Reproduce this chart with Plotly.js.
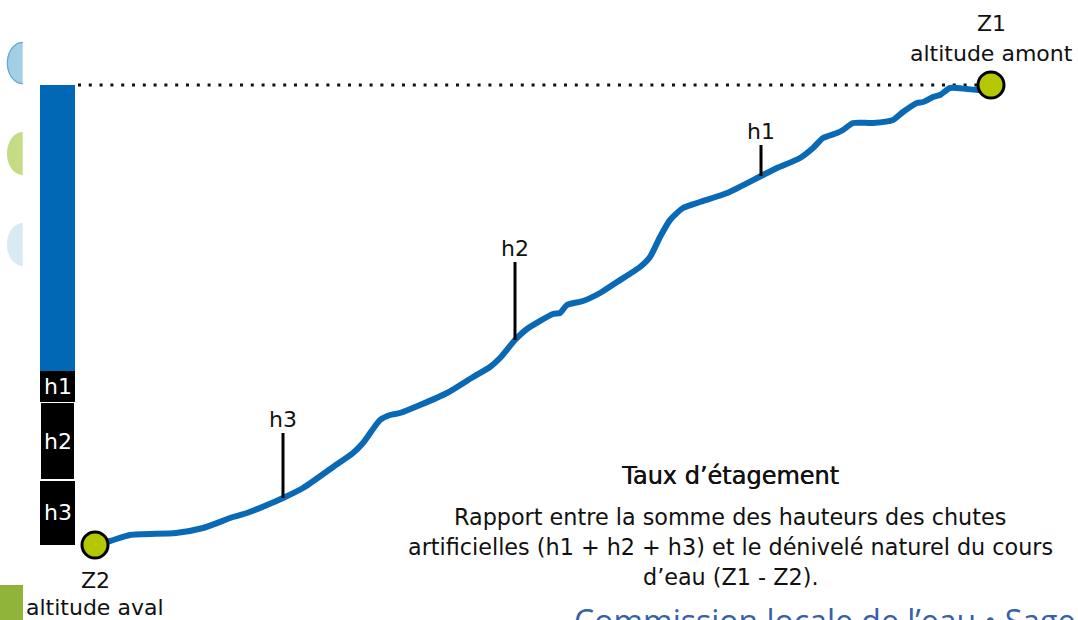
<!DOCTYPE html>
<html>
<head>
<meta charset="utf-8">
<script src="https://cdn.plot.ly/plotly-3.0.1.min.js"></script>
<style>
  html, body { margin: 0; padding: 0; background: #ffffff; }
  #chart { width: 1078px; height: 620px; }
</style>
</head>
<body>
<div id="chart"></div>
<script>
// River longitudinal profile: distance (horizontal) and altitude (vertical), diagram units
const distance = [95, 110, 130, 176, 203, 233, 247, 267, 283, 303, 333, 353, 363, 380, 390, 400, 420, 447, 473, 490, 500, 515, 527, 553, 560, 567, 583, 600, 617, 640, 650, 660, 670, 683, 700, 727, 761, 777, 800, 813, 823, 837, 843, 853, 873, 893, 903, 917, 923, 933, 940, 950, 967, 980, 991];
const altitude = [75, 79, 85, 87, 92, 103, 107, 115, 122, 132, 153, 167, 177, 200, 205, 207, 215, 227, 243, 253, 262, 280, 291, 306, 307, 315, 319, 327, 338, 353, 363, 383, 400, 412, 418, 427, 444, 452, 462, 472, 482, 487, 490, 497, 497, 500, 508, 517, 518, 523, 525, 532, 531, 530, 535];

// End points
const pointNames = ['Z2', 'Z1'];
const pointLabels = ['altitude aval', 'altitude amont'];
const pointX = [95, 991];
const pointAlt = [75, 535];   // Z2 (aval), Z1 (amont)

// Artificial drops (chutes)
const chuteNames = ['h1', 'h2', 'h3'];
const chuteX = [761, 515, 283];
const chuteH = [31, 78, 65];

// Text block
const blockTitle = 'Taux d’étagement';
const blockLines = [
  'Rapport entre la somme des hauteurs des chutes',
  'artificielles (h1 + h2 + h3) et le dénivelé naturel du cours',
  'd’eau (Z1 - Z2).'
];
const footerText = 'Commission locale de l’eau • Sage';

// ---------- derived ----------
const Z2 = pointAlt[0], Z1 = pointAlt[1];
const riverAt = x => altitude[distance.indexOf(x)];
const FONT = 'DejaVu Sans, Liberation Sans, Arial, sans-serif';

const BLUE = '#0a69b4';
const traces = [];

// Stacked bar: h3, h2, h1 then the natural remainder up to Z1
const segNames = ['h3', 'h2', 'h1', ''];
const segVals = [chuteH[2], chuteH[1], chuteH[0]];
segVals.push(Z1 - Z2 - segVals.reduce((a, b) => a + b, 0));
const segBase = [];
let acc = Z2;
segVals.forEach(v => { segBase.push(acc); acc += v; });
traces.push({
  type: 'bar',
  x: [57.5, 57.5, 57.5, 57.5],
  base: segBase,
  y: segVals,
  width: 35,
  marker: {
    color: ['#000000', '#000000', '#000000', '#0068b4'],
    line: { color: '#ffffff', width: [0, 2, 0, 0] }
  },
  hoverinfo: 'skip',
  showlegend: false
});

// Dotted reference line at Z1
traces.push({
  type: 'scatter', mode: 'lines',
  x: [78, pointX[1] - 14], y: [Z1, Z1],
  line: { color: '#111111', width: 3, dash: '3px,7.8px' },
  hoverinfo: 'skip', showlegend: false
});

// River profile
traces.push({
  type: 'scatter', mode: 'lines',
  x: distance, y: altitude,
  line: { color: BLUE, width: 6, shape: 'spline', smoothing: 0.6 },
  hoverinfo: 'skip', showlegend: false
});

// Chute stems
chuteNames.forEach((n, i) => {
  const b = riverAt(chuteX[i]);
  traces.push({
    type: 'scatter', mode: 'lines',
    x: [chuteX[i], chuteX[i]], y: [b, b + chuteH[i]],
    line: { color: '#000000', width: 3 },
    hoverinfo: 'skip', showlegend: false
  });
});

// End point markers
traces.push({
  type: 'scatter', mode: 'markers',
  x: pointX, y: pointAlt,
  marker: { size: 26, color: '#b4c700', line: { color: '#000000', width: 3 } },
  hoverinfo: 'skip', showlegend: false
});

const LBL = { family: FONT, size: 22, color: '#111111' };
const annotations = [];
// labels inside the bar
segNames.forEach((n, i) => {
  if (!n) return;
  annotations.push({
    x: 57.5, y: segBase[i] + segVals[i] / 2, xref: 'x', yref: 'y',
    text: n, showarrow: false, font: { family: FONT, size: 22, color: '#ffffff' }
  });
});
chuteNames.forEach((n, i) => {
  annotations.push({
    x: chuteX[i], y: riverAt(chuteX[i]) + chuteH[i], xref: 'x', yref: 'y',
    text: n, showarrow: false, yshift: 14, font: LBL
  });
});
// Z labels
annotations.push({ x: pointX[1], y: pointAlt[1], xref: 'x', yref: 'y', text: pointNames[1], showarrow: false, yshift: 62, font: LBL });
annotations.push({ x: pointX[1], y: pointAlt[1], xref: 'x', yref: 'y', text: pointLabels[1], showarrow: false, yshift: 32, font: LBL });
annotations.push({ x: pointX[0], y: pointAlt[0], xref: 'x', yref: 'y', text: pointNames[0], showarrow: false, yshift: -35, font: LBL });
annotations.push({ x: pointX[0], y: pointAlt[0], xref: 'x', yref: 'y', text: pointLabels[0], showarrow: false, yshift: -62, font: LBL });

// Text block
annotations.push({ x: 730, y: 144, xref: 'x', yref: 'y', text: blockTitle, showarrow: false,
  font: { family: FONT, size: 24, color: '#111111', shadow: '0.5px 0 0 #111111' } });
blockLines.forEach((t, i) => {
  annotations.push({ x: 730, y: 103 - 30 * i, xref: 'x', yref: 'y', text: t, showarrow: false,
    font: { family: FONT, size: 22.3, color: '#111111' } });
});
// Footer (cut off at the bottom edge, as in the original)
annotations.push({ x: 572, y: 0, yshift: 0, xref: 'x', yref: 'y', xanchor: 'left', yanchor: 'middle', text: footerText, showarrow: false,
  font: { family: 'Open Sans, Liberation Sans, sans-serif', size: 32, color: '#3561a9' } });

// Decorative half-discs on the left edge (left halves of ellipses)
function halfDisc(cx, cy, rx, ry, closed) {
  let d = '';
  for (let k = 0; k <= 48; k++) {
    const t = Math.PI / 2 + Math.PI * k / 48;
    const px = cx + rx * Math.cos(t), py = cy + ry * Math.sin(t);
    d += (k === 0 ? 'M' : 'L') + px.toFixed(2) + ',' + py.toFixed(2);
  }
  return closed ? d + 'Z' : d;
}
const shapes = [
  { type: 'path', xref: 'x', yref: 'y', path: halfDisc(22.7, 557, 15.7, 21, true), fillcolor: '#a2cfe4', line: { width: 0 }, layer: 'below' },
  { type: 'path', xref: 'x', yref: 'y', path: halfDisc(22.7, 557, 15.3, 20.6, false), fillcolor: 'rgba(0,0,0,0)', line: { color: '#5fa7d2', width: 1.2 }, layer: 'below' },
  { type: 'path', xref: 'x', yref: 'y', path: halfDisc(22.7, 466.5, 15.7, 21.5, true), fillcolor: '#c5dc84', line: { width: 0 }, layer: 'below' },
  { type: 'path', xref: 'x', yref: 'y', path: halfDisc(22.7, 375.5, 15.7, 21.5, true), fillcolor: '#d8eaf3', line: { width: 0 }, layer: 'below' },
  { type: 'rect', xref: 'x', yref: 'y', x0: 0, x1: 23, y0: 0, y1: 35, fillcolor: '#90b43a', line: { width: 0 }, layer: 'below' }
];

const layout = {
  width: 1078, height: 620,
  margin: { l: 0, r: 0, t: 0, b: 0, pad: 0 },
  paper_bgcolor: '#ffffff', plot_bgcolor: '#ffffff',
  xaxis: { range: [0, 1078], visible: false, fixedrange: true },
  yaxis: { range: [0, 620], visible: false, fixedrange: true },
  barmode: 'overlay',
  showlegend: false,
  annotations: annotations,
  shapes: shapes
};

Plotly.newPlot('chart', traces, layout, { displayModeBar: false, staticPlot: true });
</script>
</body>
</html>
